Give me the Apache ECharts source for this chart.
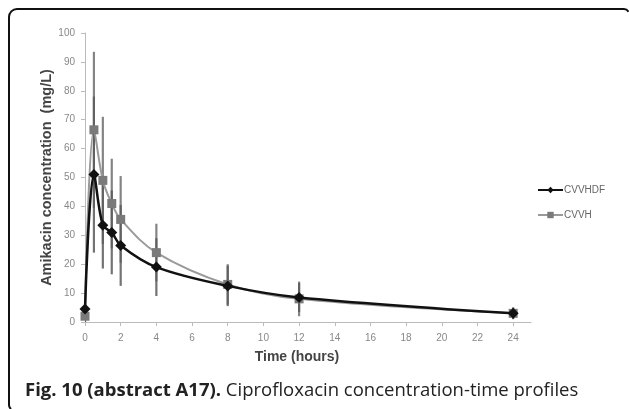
<!DOCTYPE html>
<html>
<head>
<meta charset="utf-8">
<script src="https://cdn.jsdelivr.net/npm/echarts@6/dist/echarts.min.js"></script>
<style>
html,body{margin:0;padding:0;background:#fff;}
#c{width:629px;height:409px;}
</style>
</head>
<body>
<div id="c"></div>
<script>
// ---- data ----
const times = [0, 0.5, 1, 1.5, 2, 4, 8, 12, 24];
const cvvhdfMean = [4.5, 51, 33.5, 31, 26.5, 19, 12.5, 8.5, 3];
const cvvhdfSD   = [5.5, 27, 15, 14.5, 14, 10, 7, 5, 2];
const cvvhMean   = [2, 66.5, 49, 41, 35.5, 24, 13, 8, 3];
const cvvhSD     = [2, 27, 22, 15.5, 15, 10, 7, 6, 2];
const xTicks = [0, 2, 4, 6, 8, 10, 12, 14, 16, 18, 20, 22, 24];
const seriesNames = ['CVVHDF', 'CVVH'];
const yTitle = 'Amikacin concentration  (mg/L)';
const xTitle = 'Time (hours)';
const captionBold = 'Fig. 10 (abstract A17).';
const captionRest = ' Ciprofloxacin concentration-time profiles';

const pts = (m) => times.map((t, i) => [t, m[i]]);
const bars = (m, s) => times.map((t, i) => [t, m[i] - s[i], m[i] + s[i]]);

function errRender(color) {
  return function (params, api) {
    const x = api.value(0);
    const p1 = api.coord([x, Math.max(0, api.value(1))]);
    const p2 = api.coord([x, api.value(2)]);
    return {
      type: 'line',
      shape: { x1: p1[0], y1: p1[1], x2: p2[0], y2: p2[1] },
      style: { stroke: color, lineWidth: 2.2 }
    };
  };
}

const chart = echarts.init(document.getElementById('c'), null, { renderer: 'canvas' });
const FONT = 'Liberation Sans, Arial, sans-serif';
const frameStyle = { stroke: '#111', lineWidth: 2, fill: null };
chart.setOption({
  animation: false,
  backgroundColor: '#fff',
  grid: { left: 85, right: 98, top: 33, bottom: 87, containLabel: false },
  legend: {
    orient: 'vertical',
    left: 532, top: 180,
    itemWidth: 25, itemHeight: 8, itemGap: 15,
    textStyle: { fontFamily: FONT, fontSize: 10, color: '#666', padding: [0, 0, 0, -4] },
    data: seriesNames
  },
  xAxis: {
    type: 'value', min: 0, max: 25,
    name: xTitle, nameLocation: 'middle', nameGap: 28,
    nameTextStyle: { fontFamily: FONT, fontSize: 14, fontWeight: 'bold', color: '#444', padding: [0, 22, 0, 0] },
    axisLine: { show: true, lineStyle: { color: '#bbb', width: 1 } },
    axisTick: { show: true, customValues: xTicks, length: 4, lineStyle: { color: '#bbb' } },
    axisLabel: { customValues: xTicks, fontFamily: FONT, fontSize: 10, color: '#888', margin: 11 },
    splitLine: { show: false }
  },
  yAxis: {
    type: 'value', min: 0, max: 100, interval: 10,
    name: yTitle, nameLocation: 'middle', nameGap: 31, nameMoveOverlap: false,
    nameTextStyle: { fontFamily: FONT, fontSize: 14.5, fontWeight: 'bold', color: '#444' },
    axisLine: { show: true, lineStyle: { color: '#bbb', width: 1 } },
    axisTick: { show: true, length: 4, lineStyle: { color: '#bbb' } },
    axisLabel: { fontFamily: FONT, fontSize: 10, color: '#888', margin: 10 },
    splitLine: { show: false }
  },
  series: [
    {
      name: 'cvvh-err', type: 'custom', renderItem: errRender('rgba(110,110,110,0.85)'),
      data: bars(cvvhMean, cvvhSD), encode: { x: 0, y: [1, 2] }, z: 1, silent: true, clip: true
    },
    {
      name: 'cvvhdf-err', type: 'custom', renderItem: errRender('rgba(90,90,90,0.85)'),
      data: bars(cvvhdfMean, cvvhdfSD), encode: { x: 0, y: [1, 2] }, z: 1, silent: true, clip: true
    },
    {
      name: seriesNames[1], type: 'line', data: pts(cvvhMean), smooth: 0.35,
      symbol: 'rect', symbolSize: 9,
      lineStyle: { color: '#9a9a9a', width: 2 },
      itemStyle: { color: '#7a7a7a' }, z: 3
    },
    {
      name: seriesNames[0], type: 'line', data: pts(cvvhdfMean), smooth: 0.35,
      symbol: 'diamond', symbolSize: 11,
      lineStyle: { color: '#111', width: 2.5 },
      itemStyle: { color: '#111' }, z: 4
    }
  ],
  graphic: [
    { type: 'line', shape: { x1: 9, y1: 17, x2: 9, y2: 405 }, style: frameStyle },
    { type: 'line', shape: { x1: 17, y1: 9, x2: 624, y2: 9 }, style: frameStyle },
    { type: 'arc', shape: { cx: 17, cy: 17, r: 8, startAngle: Math.PI, endAngle: Math.PI * 1.5 }, style: frameStyle },
    { type: 'arc', shape: { cx: 624, cy: 14, r: 5, startAngle: Math.PI * 1.5, endAngle: Math.PI * 1.85 }, style: frameStyle },
    { type: 'arc', shape: { cx: 14, cy: 405, r: 5, startAngle: Math.PI * 0.7, endAngle: Math.PI }, style: frameStyle },
    {
      type: 'text', left: 25, top: 381,
      style: {
        text: '{b|' + captionBold + '}{r|' + captionRest + '}',
        rich: {
          b: { fontFamily: 'Open Sans', fontWeight: 'bold', fontSize: 18.5, fill: '#222' },
          r: { fontFamily: 'Open Sans', fontSize: 18.5, fill: '#222' }
        }
      }
    }
  ]
});
</script>
</body>
</html>
